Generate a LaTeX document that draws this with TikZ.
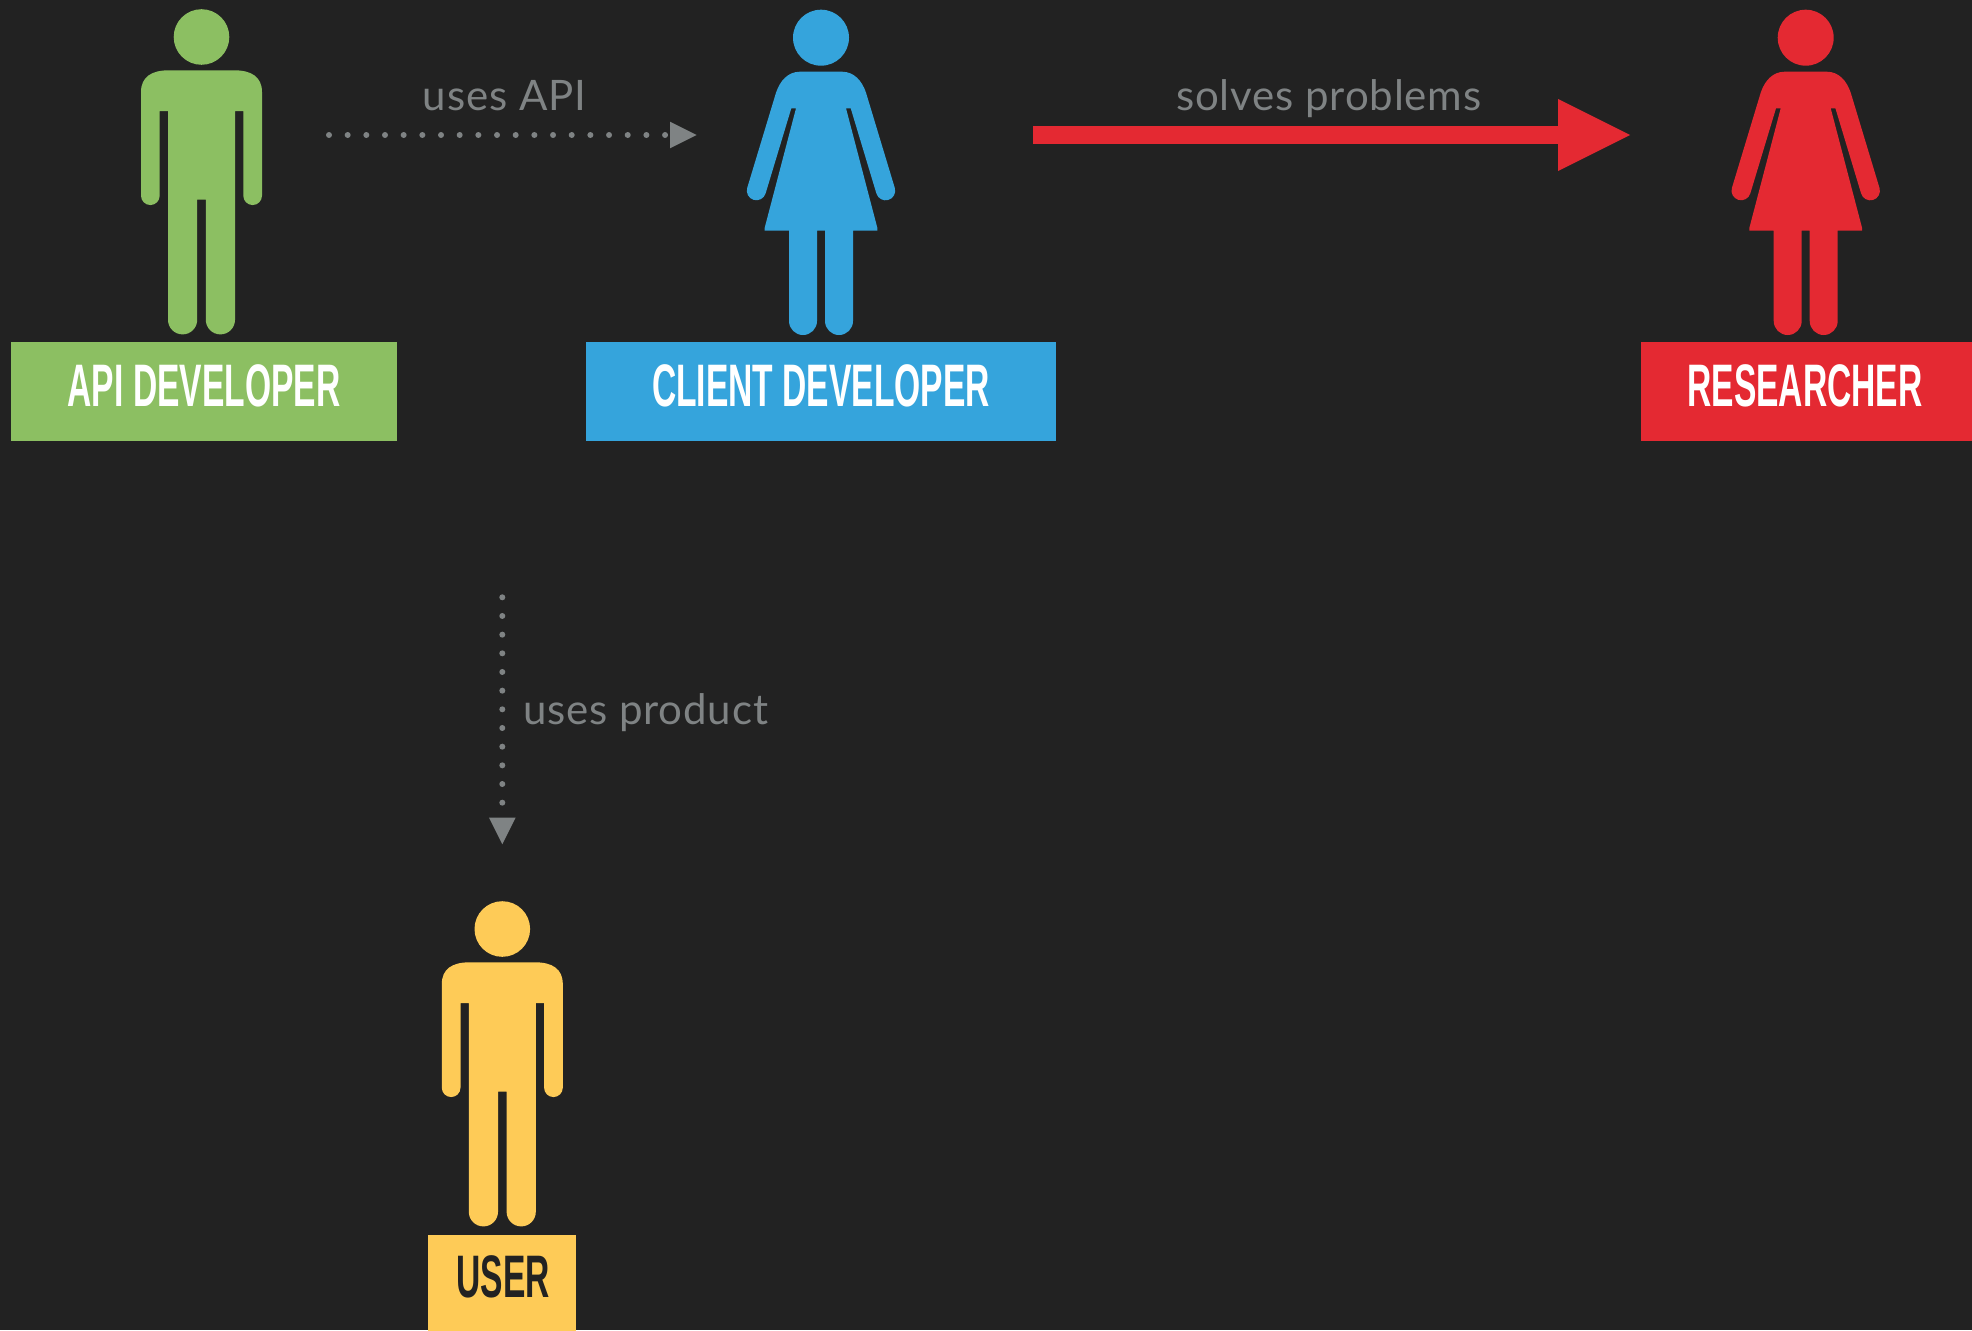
\documentclass[tikz,border=0pt]{standalone}
\usepackage{fontspec}
\setmainfont[LetterSpace=2]{Lato}
\newfontfamily\dinfont[FakeStretch=0.56]{Liberation Sans Bold}
\usetikzlibrary{arrows.meta}

\definecolor{darkbg}{HTML}{222222}
\definecolor{apigreen}{HTML}{8CBF62}
\definecolor{clientblue}{HTML}{35A4DC}
\definecolor{researchred}{HTML}{E42932}
\definecolor{useryellow}{HTML}{FECB57}
\definecolor{talkgray}{HTML}{7F8384}

\tikzset{
	rolebox/.style={fill=#1, inner sep=0pt, minimum height=99pt},
	rolelabel/.style={text=#1, inner sep=0pt, anchor=base, font=\dinfont\fontsize{60}{60}\selectfont},
	talk/.style={text=talkgray, inner sep=0pt, anchor=base west, font=\fontsize{42}{42}\selectfont},
	dots/.style={talkgray, line width=6pt, line cap=round, dash pattern=on 0pt off 18.67pt,
		-{Triangle[length=26.7pt, width=26.7pt, line width=0pt, round=false]}},
	man/.pic={
		\fill (0,0) circle (27.8);
		\fill (-60.5,55) .. controls (-60.5,40) and (-50,33.3) .. (-33,33.3) -- (33,33.3)
			.. controls (50,33.3) and (60.5,40) .. (60.5,55) -- (60.5,158.7)
			arc (0:180:9.35) -- (41.8,74) -- (33.5,74) -- (33.5,282.8)
			arc (0:180:14.6) -- (4.3,162.7) -- (-4.3,162.7) -- (-4.3,282.8)
			arc (0:180:14.6) -- (-33.5,74) -- (-41.8,74) -- (-41.8,158.7)
			arc (0:180:9.35) -- cycle;
	},
	woman/.pic={
		\fill (0,0) circle (28);
		\fill (-21,34) -- (21,34) .. controls (33,34) and (41,43) .. (45,55) -- (73.8,150.3)
			arc (-16.6:163.4:9.6) -- (29.7,70.6) -- (25,70.6) -- (56.3,190) -- (56.3,193) -- (32,193) -- (32,283.3)
			arc (0:180:14) -- (4,193) -- (-4,193) -- (-4,283.3)
			arc (0:180:14) -- (-32,193) -- (-56.3,193) -- (-56.3,190) -- (-25,70.6) -- (-29.7,70.6)
			-- (-55.4,155.7) arc (16.6:196.6:9.6) -- (-45,55) .. controls (-41,43) and (-33,34) .. (-21,34) -- cycle;
	},
}

\begin{document}
\begin{tikzpicture}[x=1pt, y=-1pt]
	\fill[darkbg] (0,0) rectangle (1972,1330);
	\useasboundingbox (0,0) rectangle (1972,1330);

	% people
	\pic[apigreen] at (201.5,37) {man};
	\pic[clientblue] at (821,37.7) {woman};
	\pic[researchred] at (1805.7,37.7) {woman};
	\pic[useryellow] at (502.3,929) {man};

	% name plates
	\node[rolebox=apigreen, minimum width=386pt] (api) at (204,391.5) {};
	\node[rolelabel=white] (apilabel) at (204,406) {API DEVELOPER};
	\node[rolebox=clientblue, minimum width=470pt] (client) at (821,391.5) {};
	\node[rolelabel=white] (clientlabel) at (821,406) {CLIENT DEVELOPER};
	\node[rolebox=researchred, minimum width=331pt] (researcher) at (1806.5,391.5) {};
	\node[rolelabel=white] (researcherlabel) at (1805,406) {RESEARCHER};
	\node[rolebox=useryellow, minimum width=148pt] (user) at (502,1284.5) {};
	\node[rolelabel=darkbg] (userlabel) at (503,1297.5) {USER};

	% connectors
	\coordinate (apiout) at (329,135);
	\coordinate (clientin) at (696.7,135);
	\coordinate (clientout) at (1033,135);
	\coordinate (researcherin) at (1630,135);
	\coordinate (apidown) at (502.3,597.3);
	\coordinate (userin) at (502.3,844.3);
	\draw[dots] (apiout) -- (clientin);
	\draw[dots] (apidown) -- (userin);
	\draw[researchred, line width=18.7pt, -{Triangle[length=72pt, width=72pt, line width=0pt, round=false]}] (clientout) -- (researcherin);

	\node[talk] (usesapi) at (422.7,110) {uses API};
	\node[talk] (solves) at (1176,110) {solves problems};
	\node[talk] (usesproduct) at (523,724) {uses product};
\end{tikzpicture}
\end{document}
